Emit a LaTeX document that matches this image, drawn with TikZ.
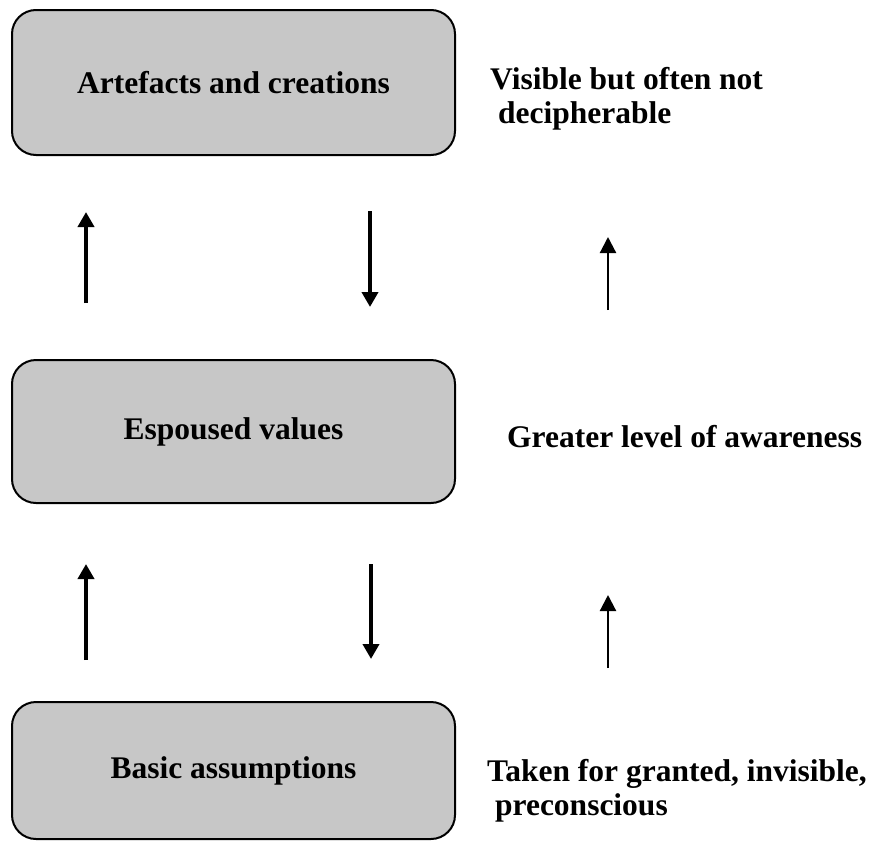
\documentclass[tikz,border=0pt]{standalone}
\usepackage{fontspec}
\setmainfont{Liberation Serif}
\usetikzlibrary{arrows.meta}
\begin{document}
\begin{tikzpicture}[x=1pt,y=-1pt,
  level/.style={draw=black,line width=2pt,fill=black!22,rounded corners=24pt},
  lbl/.style={font=\bfseries\fontsize{31.5}{34}\selectfont,inner sep=0pt},
  bigarrow/.style={line width=4pt,-{Triangle[width=16pt,length=15pt]}},
  thinarrow/.style={line width=2.2pt,-{Triangle[width=16pt,length=16pt]}}]
\useasboundingbox (0,0) rectangle (878,841);

% the three levels
\draw[level] (12,10) rectangle (455,155);
\node[lbl] (artefacts) at (233.5,83) {Artefacts and creations};
\draw[level] (12,360) rectangle (455,503);
\node[lbl] (espoused) at (233.5,432) {Espoused values};
\draw[level] (12,702) rectangle (455,839);
\node[lbl] (basic) at (233.5,771) {Basic assumptions};

% descriptions on the right (anchored at the baseline of the last line)
\node[lbl,anchor=base west,align=left] (visible) at (490,123) {Visible but often not\\\ decipherable};
\node[lbl,anchor=base west] (awareness) at (507,447) {Greater level of awareness};
\node[lbl,anchor=base west,align=left] (taken) at (487,815) {Taken for granted, invisible,\\\ preconscious};

% arrow end points
\coordinate (u1a) at (86,303);  \coordinate (u1b) at (86,212);
\coordinate (d1a) at (370,211); \coordinate (d1b) at (370,307);
\coordinate (t1a) at (608,310); \coordinate (t1b) at (608,237);
\coordinate (u2a) at (86,660);  \coordinate (u2b) at (86,564);
\coordinate (d2a) at (371,564); \coordinate (d2b) at (371,659);
\coordinate (t2a) at (608,668); \coordinate (t2b) at (608,595);

\draw[bigarrow] (u1a) -- (u1b);
\draw[bigarrow] (d1a) -- (d1b);
\draw[thinarrow] (t1a) -- (t1b);
\draw[bigarrow] (u2a) -- (u2b);
\draw[bigarrow] (d2a) -- (d2b);
\draw[thinarrow] (t2a) -- (t2b);
\end{tikzpicture}
\end{document}
